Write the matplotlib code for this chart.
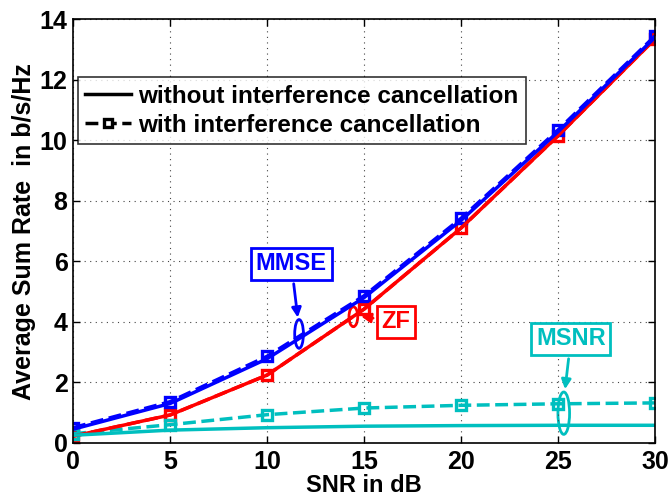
import numpy as np
import matplotlib
matplotlib.use('Agg')
import matplotlib.pyplot as plt
from matplotlib.lines import Line2D
from matplotlib.patches import Ellipse

plt.rcParams['font.family'] = ['Liberation Sans', 'DejaVu Sans']
plt.rcParams['font.weight'] = 'bold'

snr = [0, 5, 10, 15, 20, 25, 30]

# without interference cancellation
mmse = [0.45, 1.30, 2.78, 4.80, 7.35, 10.28, 13.40]
zf = [0.22, 0.92, 2.24, 4.42, 7.10, 10.15, 13.35]
msnr = [0.25, 0.42, 0.50, 0.55, 0.57, 0.58, 0.58]

# with interference cancellation
mmse_ic = [0.50, 1.36, 2.86, 4.86, 7.42, 10.34, 13.45]
zf_ic = [0.22, 0.92, 2.24, 4.42, 7.10, 10.15, 13.35]
msnr_ic = [0.30, 0.60, 0.93, 1.15, 1.24, 1.29, 1.32]

blue = '#0000ff'
red = '#ff0000'
cyan = '#00bfbf'

fig = plt.figure(figsize=(6.71, 4.97), dpi=100)
ax = fig.add_axes([0.109, 0.109, 0.867, 0.852])

mk = dict(marker='s', markersize=6.5, markerfacecolor='none', markeredgewidth=2.4)
ax.plot(snr, zf_ic, '--', color=red, lw=2.5, **mk)
ax.plot(snr, mmse_ic, '--', color=blue, lw=2.5, **mk)
ax.plot(snr, msnr_ic, '--', color=cyan, lw=2.5, **mk)
ax.plot(snr, zf, '-', color=red, lw=2.5)
ax.plot(snr, mmse, '-', color=blue, lw=2.5)
ax.plot(snr, msnr, '-', color=cyan, lw=2.5)

ax.set_xlim(0, 30)
ax.set_ylim(0, 14)
ax.set_xticks(snr)
ax.set_yticks(range(0, 15, 2))
ax.grid(True, linestyle=(0, (1, 4)), color='#444444', lw=0.8)
ax.tick_params(direction='in', length=5, width=1, labelsize=18, top=True, right=True, pad=4)
ax.tick_params(axis='x', pad=5.5)
for s in ax.spines.values():
    s.set_linewidth(1.2)

ax.set_xlabel('SNR in dB', fontsize=17, fontweight='bold', labelpad=-0.5)
ax.set_ylabel('Average Sum Rate  in b/s/Hz', fontsize=18, fontweight='bold', labelpad=3)

# ellipses and labels
box = dict(boxstyle='square,pad=0.2', fc='white', lw=2)
arr = dict(arrowstyle='-|>', lw=2, mutation_scale=14)

ax.add_patch(Ellipse((11.65, 3.6), 0.45, 0.95, fill=False, edgecolor=blue, lw=2))
ax.annotate('MMSE', xy=(11.6, 4.05), xytext=(11.25, 5.92), color=blue, fontsize=17,
            fontweight='bold', ha='center', va='center',
            bbox=dict(box, ec=blue), arrowprops=dict(arr, color=blue))

ax.add_patch(Ellipse((14.45, 4.17), 0.45, 0.66, fill=False, edgecolor=red, lw=2))
ax.annotate('ZF', xy=(14.7, 4.2), xytext=(16.65, 4.0), color=red, fontsize=17,
            fontweight='bold', ha='center', va='center',
            bbox=dict(box, ec=red), arrowprops=dict(arr, color=red))

ax.add_patch(Ellipse((25.3, 0.98), 0.6, 1.4, fill=False, edgecolor=cyan, lw=2))
ax.annotate('MSNR', xy=(25.35, 1.68), xytext=(25.67, 3.44), color=cyan, fontsize=17,
            fontweight='bold', ha='center', va='center',
            bbox=dict(box, ec=cyan), arrowprops=dict(arr, color=cyan))

handles = [Line2D([], [], color='black', lw=2.5, ls='-'),
           Line2D([], [], color='black', lw=2.5, ls='--', marker='s', markersize=6,
                  markerfacecolor='white', markeredgewidth=2.4)]
leg = ax.legend(handles, ['without interference cancellation', 'with interference cancellation'],
                loc='upper left', bbox_to_anchor=(0.008, 0.863), fontsize=17.5, frameon=True,
                fancybox=False, edgecolor='black', handlelength=1.9, handletextpad=0.3,
                borderpad=0.3, labelspacing=0.25, borderaxespad=0)
leg.get_frame().set_linewidth(1.2)

fig.savefig('out.png', dpi=100)
